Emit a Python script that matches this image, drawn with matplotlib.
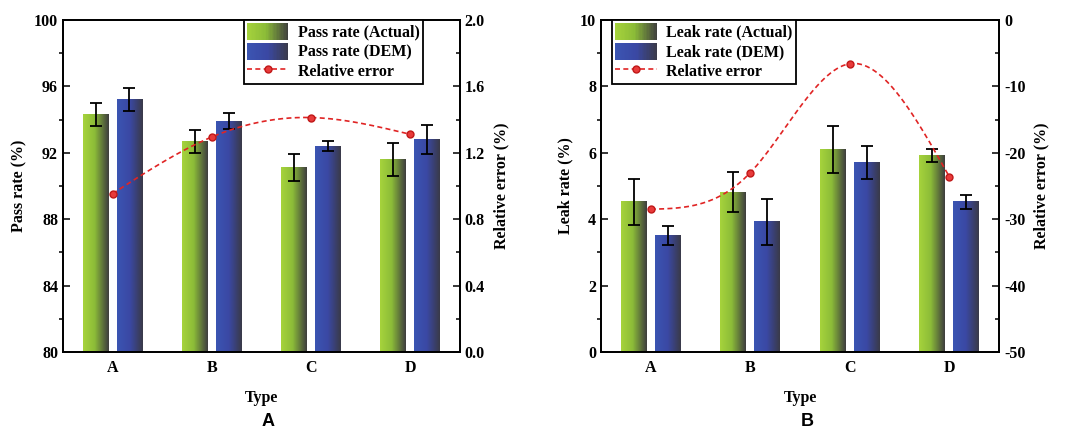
import numpy as np
import matplotlib
matplotlib.use("Agg")
import matplotlib.pyplot as plt
from matplotlib.colors import LinearSegmentedColormap
from matplotlib.legend_handler import HandlerBase
from matplotlib.patches import Rectangle, Patch
from matplotlib.lines import Line2D
from matplotlib.ticker import MultipleLocator

plt.rcParams['font.family'] = ['Liberation Serif', 'DejaVu Serif']
plt.rcParams['font.weight'] = 'bold'
plt.rcParams['axes.labelweight'] = 'bold'
plt.rcParams['axes.unicode_minus'] = False

types = ['A', 'B', 'C', 'D']

# panel A
pass_actual = [94.3, 92.7, 91.1, 91.6]
pass_actual_err = [0.7, 0.7, 0.8, 1.0]
pass_dem = [95.2, 93.9, 92.4, 92.8]
pass_dem_err = [0.7, 0.47, 0.28, 0.9]
pass_rel = [0.954, 1.295, 1.412, 1.311]

# panel B
leak_actual = [4.52, 4.81, 6.1, 5.91]
leak_actual_err = [0.7, 0.6, 0.7, 0.2]
leak_dem = [3.51, 3.92, 5.71, 4.52]
leak_dem_err = [0.3, 0.7, 0.5, 0.2]
leak_rel = [-28.5, -23.0, -6.6, -23.6]

green_cm = LinearSegmentedColormap.from_list('g', [(0, '#a6d33c'), (0.45, '#8cbc38'), (1, '#3e3e3e')])
blue_cm = LinearSegmentedColormap.from_list('b', [(0, '#3b55b2'), (0.5, '#3a48a4'), (1, '#3a3a48')])
red = '#e02424'


class GradHandler(HandlerBase):
    def __init__(self, cmap):
        super().__init__()
        self.cmap = cmap

    def create_artists(self, legend, orig_handle, xdescent, ydescent,
                       width, height, fontsize, trans):
        n = 30
        out = []
        for i in range(n):
            r = Rectangle((-xdescent + width * i / n, -ydescent), width / n * 1.1, height,
                          facecolor=self.cmap((i + 0.5) / n), edgecolor='none', transform=trans)
            out.append(r)
        return out


def natural_spline(x, y, n=200):
    x = np.asarray(x, float)
    y = np.asarray(y, float)
    h = np.diff(x)
    k = len(x)
    A = np.zeros((k, k))
    b = np.zeros(k)
    A[0, 0] = A[-1, -1] = 1
    for i in range(1, k - 1):
        A[i, i - 1] = h[i - 1]
        A[i, i] = 2 * (h[i - 1] + h[i])
        A[i, i + 1] = h[i]
        b[i] = 6 * ((y[i + 1] - y[i]) / h[i] - (y[i] - y[i - 1]) / h[i - 1])
    M = np.linalg.solve(A, b)
    xs = np.linspace(x[0], x[-1], n)
    idx = np.clip(np.searchsorted(x, xs) - 1, 0, k - 2)
    x0, x1 = x[idx], x[idx + 1]
    hh = x1 - x0
    t0, t1 = x1 - xs, xs - x0
    ys = (M[idx] * t0 ** 3 / (6 * hh) + M[idx + 1] * t1 ** 3 / (6 * hh)
          + (y[idx] / hh - M[idx] * hh / 6) * t0 + (y[idx + 1] / hh - M[idx + 1] * hh / 6) * t1)
    return xs, ys


def panel(rect, act, act_err, dem, dem_err, rel, ylim, ystep, y2lim, y2step,
          ylab, labels, legloc, legpos, y2fmt):
    ax = fig.add_axes(rect)
    x = np.arange(1, len(types) + 1)
    w = 0.26
    off = 0.17
    for vals, errs, cm, sh in [(act, act_err, green_cm, -off), (dem, dem_err, blue_cm, off)]:
        bars = ax.bar(x + sh, vals, w, color='none', edgecolor='none')
        for p in bars:
            grad = np.linspace(0, 1, 64).reshape(1, -1)
            ax.imshow(grad, extent=[p.get_x(), p.get_x() + p.get_width(), 0, p.get_height()],
                      aspect='auto', cmap=cm, zorder=1, interpolation='bicubic')
        ax.errorbar(x + sh, vals, yerr=errs, fmt='none', ecolor='black', elinewidth=1.3,
                    capsize=4.3, capthick=1.3, zorder=3)
    ax.set_xlim(0.5, 4.5)
    ax.set_ylim(*ylim)
    ax.set_xticks(x)
    ax.set_xticklabels(types)
    ax.yaxis.set_major_locator(MultipleLocator(ystep))
    ax.yaxis.set_minor_locator(MultipleLocator(ystep / 2))
    ax.tick_params(axis='both', direction='in', labelsize=11.5, width=1.1)
    ax.tick_params(axis='x', length=0, pad=6)
    ax.tick_params(axis='y', which='major', length=5)
    ax.tick_params(axis='y', which='minor', length=3, width=1.1)
    for s in ax.spines.values():
        s.set_linewidth(1.3)
    ax.set_xlabel('Type', fontsize=11.5, labelpad=10)
    ax.set_ylabel(ylab, fontsize=11.5, labelpad=5)

    ax2 = ax.twinx()
    xs, ys = natural_spline(x, rel)
    ax2.plot(xs, ys, '--', color=red, lw=1.2, dashes=(3, 2))
    ax2.plot(x, rel, 'o', color=red, ms=5, mec='#c01818', mfc='#e83a3a')
    ax2.set_ylim(*y2lim)
    ax2.yaxis.set_major_locator(MultipleLocator(y2step))
    ax2.yaxis.set_minor_locator(MultipleLocator(y2step / 2))
    ax2.yaxis.set_major_formatter(y2fmt)
    ax2.tick_params(axis='y', which='major', direction='in', length=5, width=1.1, labelsize=11.5)
    ax2.tick_params(axis='y', which='minor', direction='in', length=3, width=1.1)
    ax2.set_ylabel('Relative error (%)', fontsize=11.5, labelpad=6)
    for s in ax2.spines.values():
        s.set_linewidth(1.3)

    h1 = Patch(label=labels[0])
    h2 = Patch(label=labels[1])
    h3 = Line2D([], [], ls='--', color=red, lw=1.2, dashes=(3, 2), marker='o', ms=5,
                mec='#c01818', mfc='#e83a3a', label='Relative error')
    leg = ax2.legend(handles=[h1, h2, h3], loc=legloc, bbox_to_anchor=legpos, fontsize=11.5,
                     frameon=True, fancybox=False, edgecolor='black', framealpha=1,
                     handlelength=2.6, handleheight=1.25, labelspacing=0.12,
                     handletextpad=0.6, borderpad=0.2, borderaxespad=0.0,
                     handler_map={h1: GradHandler(green_cm), h2: GradHandler(blue_cm)})
    leg.get_frame().set_linewidth(1.3)
    return ax


fig = plt.figure(figsize=(10.67, 4.32), dpi=100)

panel([0.059, 0.185, 0.372, 0.769], pass_actual, pass_actual_err, pass_dem, pass_dem_err,
      pass_rel, (80, 100), 4, (0, 2.0), 0.4, 'Pass rate (%)',
      ['Pass rate (Actual)', 'Pass rate (DEM)'], 'upper right', (0.907, 1.0), '{x:.1f}')
panel([0.5633, 0.185, 0.373, 0.769], leak_actual, leak_actual_err, leak_dem, leak_dem_err,
      leak_rel, (0, 10), 2, (-50, 0), 10, 'Leak rate (%)',
      ['Leak rate (Actual)', 'Leak rate (DEM)'], 'upper left', (0.028, 1.0), '{x:.0f}')

fig.text(0.251, 0.013, 'A', fontsize=13, fontweight='bold', family='Liberation Sans', ha='center')
fig.text(0.7567, 0.013, 'B', fontsize=13, fontweight='bold', family='Liberation Sans', ha='center')

fig.savefig('out.png', dpi=100)
